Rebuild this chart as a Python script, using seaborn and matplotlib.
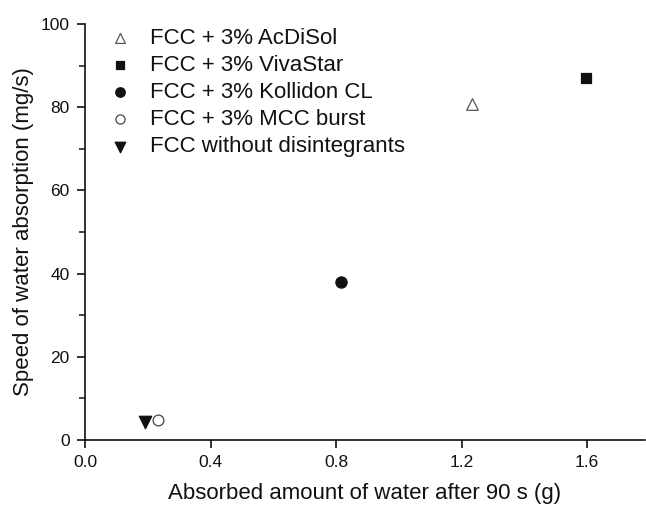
import matplotlib
matplotlib.use("Agg")
import matplotlib.pyplot as plt
import seaborn as sns
import pandas as pd
from matplotlib.ticker import MultipleLocator

sns.set_theme(style="ticks")
plt.rcParams['font.family'] = ['Liberation Sans', 'DejaVu Sans']

labels = ["FCC + 3% AcDiSol", "FCC + 3% VivaStar", "FCC + 3% Kollidon CL",
          "FCC + 3% MCC burst", "FCC without disintegrants"]
absorbed = [1.233, 1.597, 0.816, 0.233, 0.19]
speed = [80.8, 87.0, 38.0, 4.8, 4.3]
markers = ["^", "s", "o", "o", "v"]
faces = ["white", "#111111", "#111111", "white", "#111111"]
edges = ["#555555", "#111111", "#111111", "#444444", "#111111"]
sizes = [70, 55, 65, 60, 80]

df = pd.DataFrame({"label": labels, "x": absorbed, "y": speed})

fig = plt.figure(figsize=(6.46, 5.05), dpi=100)
ax = fig.add_axes([0.1316, 0.1287, 0.867, 0.8238])

for i, lab in enumerate(labels):
    sub = df[df["label"] == lab]
    sns.scatterplot(data=sub, x="x", y="y", ax=ax, marker=markers[i],
                    color=faces[i], edgecolor=edges[i], linewidth=0.9,
                    s=sizes[i], label=lab, zorder=3)

ax.set_xlim(0, 1.785)
ax.set_ylim(0, 100)
ax.set_xticks([0.0, 0.4, 0.8, 1.2, 1.6])
ax.set_xticklabels(["0.0", "0.4", "0.8", "1.2", "1.6"])
ax.set_yticks([0, 20, 40, 60, 80, 100])
ax.yaxis.set_minor_locator(MultipleLocator(10))
ax.tick_params(axis="both", which="major", direction="out", length=6, width=1.2,
               labelsize=12.5, colors="#111111", pad=5)
ax.tick_params(axis="y", which="minor", direction="out", length=4, width=1.2)
sns.despine(ax=ax)
for sp in ["left", "bottom"]:
    ax.spines[sp].set_linewidth(1.2)
    ax.spines[sp].set_color("#111111")

ax.set_xlabel("Absorbed amount of water after 90 s (g)", fontsize=16, color="#111111", labelpad=9)
ax.set_ylabel("Speed of water absorption (mg/s)", fontsize=16, color="#111111", labelpad=5)

leg = ax.legend(loc="upper left", frameon=False, fontsize=16, handletextpad=0.55,
                labelspacing=0.28, borderaxespad=0.0, borderpad=0.2,
                bbox_to_anchor=(0.023, 1.002), markerscale=0.85, handlelength=1.6)
for t in leg.get_texts():
    t.set_color("#111111")

fig.savefig("out.png", dpi=100)
